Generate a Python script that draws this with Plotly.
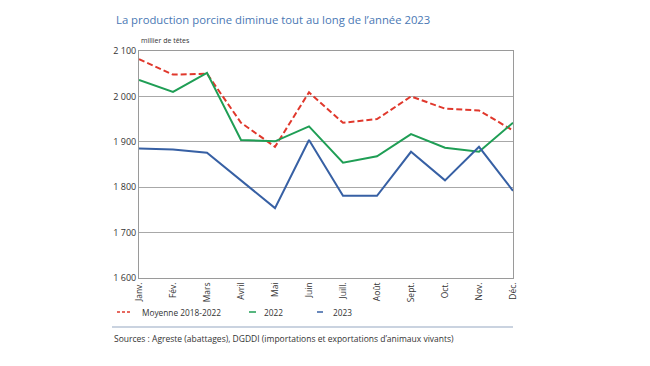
import plotly.graph_objects as go

months = ["Janv.", "Fév.", "Mars", "Avril", "Mai", "Juin", "Juill.", "Août", "Sept.", "Oct.", "Nov.", "Déc."]
moyenne = [2082, 2048, 2050, 1942, 1889, 2009, 1942, 1950, 2000, 1973, 1969, 1925]
y2022 = [2036, 2010, 2052, 1904, 1901, 1934, 1854, 1868, 1917, 1887, 1878, 1942]
y2023 = [1885, 1883, 1876, 1816, 1754, 1904, 1781, 1781, 1878, 1815, 1889, 1792]
ytickvals = [1600, 1700, 1800, 1900, 2000, 2100]
yticktext = ["1 600", "1 700", "1 800", "1 900", "2 000", "2 100"]

names = ["Moyenne 2018-2022", "2022", "2023"]
colors = ["#e0382c", "#1f9e55", "#3760a4"]
dashes = ["6px,3px", "solid", "solid"]
series = [moyenne, y2022, y2023]

# page body has an 8px margin: work in reference pixel coords shifted by OFF
OFF = 8
W, H = 650 - OFF, 366 - OFF
PL, PR, PT, PB = 139 - OFF, 513 - OFF, 51 - OFF, 278 - OFF
PW, PH = PR - PL, PB - PT


def px(x):
    return (x - OFF - PL) / PW


def py(y):
    return (PB - (y - OFF)) / PH


FONT = "Open Sans"
fig = go.Figure()
for name, vals, col, d in zip(names, series, colors, dashes):
    fig.add_trace(go.Scatter(x=months, y=vals, mode="lines", name=name,
                             line=dict(color=col, width=2, dash=d), showlegend=False))

fig.update_layout(
    width=W, height=H,
    margin=dict(l=PL, r=W - PR, t=PT, b=H - PB),
    paper_bgcolor="white", plot_bgcolor="white",
    font=dict(family=FONT, color="#333333", size=9),
    title=dict(text="La production porcine diminue tout au long de l’année 2023",
               x=(116 - OFF) / W, xanchor="left", y=1 - (20 - OFF) / H, yanchor="middle",
               font=dict(family=FONT, size=11.3, color="#4a78b4")),
)
fig.update_xaxes(type="category", tickangle=-90, showgrid=False,
                 showline=True, linecolor="#9a9a9a", linewidth=1, mirror=True,
                 tickfont=dict(size=8.5, color="#333333"), ticks="")
fig.update_yaxes(range=[1600, 2100], tickvals=ytickvals, ticktext=yticktext,
                 showgrid=True, gridcolor="#a8a8a8", gridwidth=1,
                 showline=True, linecolor="#9a9a9a", linewidth=1, mirror=True,
                 zeroline=False, ticks="", tickfont=dict(size=9, color="#333333"))

# unit label
fig.add_annotation(text="millier de têtes", xref="paper", yref="paper",
                   x=px(139), y=py(40), xanchor="left", yanchor="middle",
                   showarrow=False, font=dict(size=7, color="#333333"))

# custom legend
leg_y = py(312)
leg_items = [(117, 131, 140), (249, 256, 262), (317, 323, 331)]
for (x0, x1, xt), name, col, d in zip(leg_items, names, colors, dashes):
    fig.add_shape(type="line", xref="paper", yref="paper",
                  x0=px(x0), x1=px(x1), y0=leg_y, y1=leg_y,
                  line=dict(color=col, width=1.5, dash="3px,2px" if d != "solid" else "solid"))
    fig.add_annotation(text=name, xref="paper", yref="paper",
                       x=px(xt), y=leg_y, xanchor="left", yanchor="middle",
                       showarrow=False, font=dict(size=8.3, color="#333333"))

# separator
fig.add_shape(type="line", xref="paper", yref="paper",
              x0=px(112), x1=px(513), y0=py(327), y1=py(327),
              line=dict(color="#b9c4d6", width=1.5))

fig.add_annotation(text="Sources : Agreste (abattages), DGDDI (importations et exportations d’animaux vivants)",
                   xref="paper", yref="paper", x=px(112), y=py(338),
                   xanchor="left", yanchor="middle", showarrow=False,
                   font=dict(size=8.5, color="#333333"))

fig.write_html("out.html")
